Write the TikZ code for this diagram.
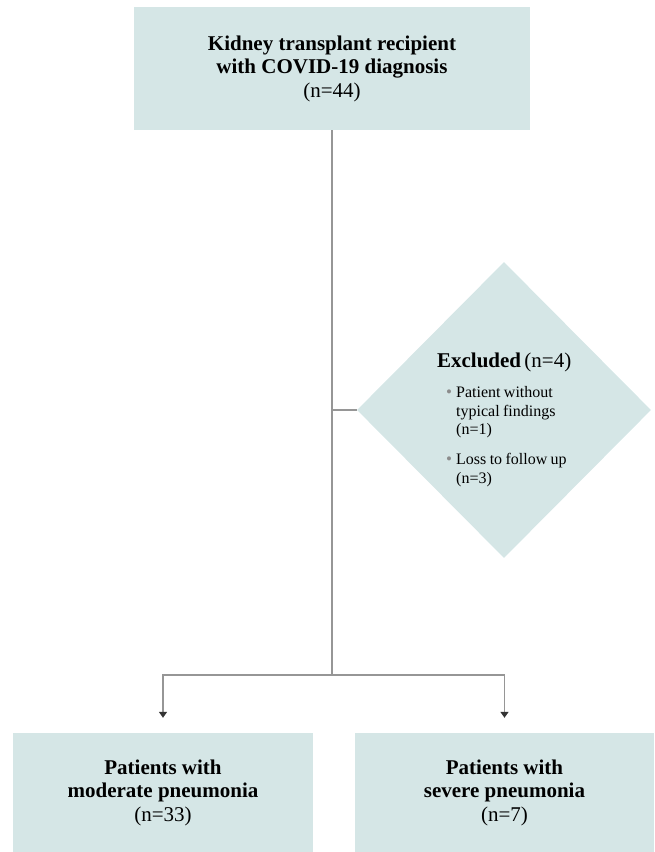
\documentclass[tikz,border=0pt]{standalone}
\usepackage{fontspec}
\setmainfont{Liberation Serif}
\usetikzlibrary{shapes.geometric,arrows.meta}

\definecolor{boxfill}{RGB}{213,230,230}
\definecolor{linegray}{RGB}{150,150,150}
\definecolor{dotgray}{RGB}{140,140,140}

\tikzset{
  flowbox/.style={fill=boxfill, draw=none, align=center, font=\fontsize{21}{23.5}\selectfont},
  flowline/.style={draw=linegray, line width=1.4pt},
  flowarrow/.style={flowline, -{Triangle[length=6pt,width=8pt,fill=black!80,color=black!80]}}
}

\newcommand{\bulletitem}[1]{\par\hangindent=10pt\hangafter=1\noindent\makebox[10pt][l]{\textcolor{dotgray}{\fontsize{17}{17}\selectfont•}}#1\par}

\begin{document}
\begin{tikzpicture}[x=1pt,y=-1pt]
    \useasboundingbox (0,0) rectangle (654,852);

    % Recipient box
    \node[flowbox, minimum width=396pt, minimum height=123pt] (recipient) at (332,68.5)
        {\textbf{Kidney transplant recipient}\\ \textbf{with COVID-19 diagnosis}\\ (n=44)};

    % Excluded diamond
    \node[diamond, fill=boxfill, minimum width=294pt, minimum height=296pt, inner sep=0pt] (excluded) at (504,410)
        {};
    \node[text width=134pt, align=left, anchor=north west, inner sep=0pt] (reasons) at (446,353)
        {\fontsize{21}{21}\selectfont\hspace*{-9pt}\makebox[\linewidth][c]{\textbf{Excluded} (n=4)}\par
         \fontsize{16}{18.5}\selectfont\raggedright\vspace{11.5pt}
         \bulletitem{Patient without typical findings (n=1)}\vspace{11.5pt}
         \bulletitem{Loss to follow up (n=3)}};

    % Outcome boxes
    \node[flowbox, minimum width=300pt, minimum height=119pt] (moderate) at (163,792.5)
        {\textbf{Patients with}\\ \textbf{moderate pneumonia}\\ (n=33)};
    \node[flowbox, minimum width=299pt, minimum height=119pt] (severe) at (504.5,792.5)
        {\textbf{Patients with}\\ \textbf{severe pneumonia}\\ (n=7)};

    % Connectors
    \coordinate (split) at (332,675);
    \draw[flowline] (recipient.south) -- (split);
    \draw[flowline] (recipient.south |- excluded.west) -- (excluded.west);
    \draw[flowarrow, shorten >=15pt] (split) -| (moderate.north);
    \draw[flowarrow, shorten >=15pt] (split) -| (severe.north);
\end{tikzpicture}
\end{document}
